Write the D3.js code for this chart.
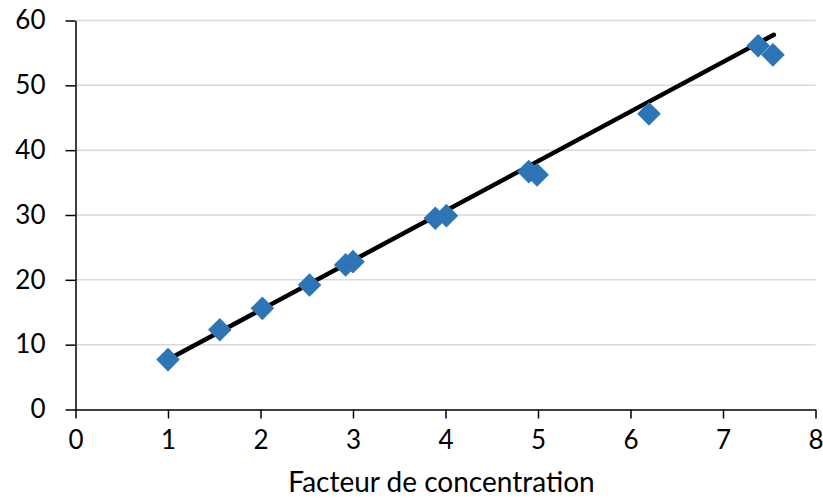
<!DOCTYPE html>
<html><head><meta charset="utf-8">
<script src="https://cdn.jsdelivr.net/npm/d3@7"></script>
<style>body{margin:0;background:#fff}svg{display:block}text{font-family:Lato,"Open Sans",sans-serif;fill:#000}</style>
</head><body>
<svg id="c" width="823" height="500"></svg>
<script>
const xValues = [1.0, 1.56, 2.02, 2.53, 2.92, 3.0, 3.89, 4.01, 4.90, 4.99, 6.2, 7.38, 7.54];
const yValues = [7.7, 12.3, 15.6, 19.2, 22.3, 22.8, 29.5, 29.9, 36.7, 36.2, 45.6, 56.1, 54.7];
const trendX = [1.0, 7.55];
const trendY = [7.7, 57.8];
const xTicks = [0,1,2,3,4,5,6,7,8];
const yTicks = [0,10,20,30,40,50,60];
const xTitle = "Facteur de concentration";

const svg = d3.select("#c");
const L = 75.5, R = 815.5, T = 20.5, B = 409.5;
const x = d3.scaleLinear().domain([0,8]).range([L,R]);
const y = d3.scaleLinear().domain([0,60]).range([B,T]);

svg.append("g").selectAll("line").data(yTicks.filter(d=>d>0)).join("line")
  .attr("x1",L).attr("x2",R).attr("y1",d=>y(d)).attr("y2",d=>y(d))
  .attr("stroke","#d9d9d9").attr("stroke-width",1.5);

const yAxis = svg.append("g").attr("transform",`translate(${L},0)`)
  .call(d3.axisLeft(y).tickValues(yTicks).tickSize(10).tickPadding(20).tickSizeOuter(0));
const xAxis = svg.append("g").attr("transform",`translate(0,${B})`)
  .call(d3.axisBottom(x).tickValues(xTicks).tickSize(9).tickPadding(12).tickSizeOuter(0));
[xAxis,yAxis].forEach(a=>{
  a.select(".domain").attr("stroke","#000").attr("stroke-width",1.5);
  a.selectAll(".tick line").attr("stroke","#000").attr("stroke-width",1.5);
  a.selectAll("text").attr("font-family","Lato").attr("font-size",26).attr("fill","#000");
});

const line = d3.line().x(d=>x(d[0])).y(d=>y(d[1]));
svg.append("path").datum(trendX.map((v,i)=>[v,trendY[i]]))
  .attr("d",line).attr("fill","none")
  .attr("stroke","#000").attr("stroke-width",4.5).attr("stroke-linecap","round");

const sym = d3.symbol().type(d3.symbolSquare).size(280);
svg.append("g").selectAll("path").data(xValues.map((v,i)=>[v,yValues[i]])).join("path")
  .attr("d",sym)
  .attr("transform",d=>`translate(${x(d[0])},${y(d[1])}) rotate(45)`)
  .attr("fill","#2e75b6");

svg.append("text").attr("x",(L+R)/2 - 4).attr("y",492).attr("text-anchor","middle")
  .attr("font-size",28).text(xTitle);
</script>
</body></html>
